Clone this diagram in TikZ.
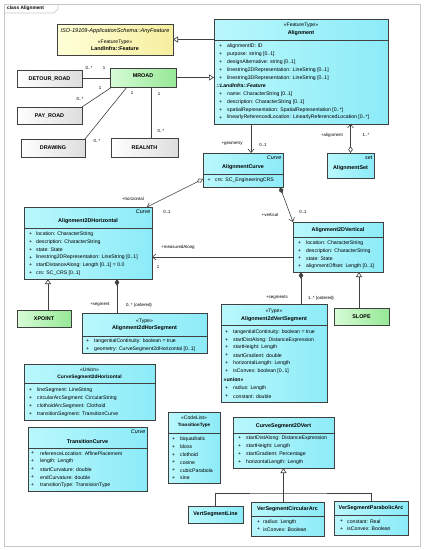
\documentclass[tikz,border=0pt]{standalone}
\usepackage{fontspec}
\setmainfont{Liberation Sans}
\usetikzlibrary{arrows.meta,calc,shadows}
\definecolor{cyL}{RGB}{185,248,252}
\definecolor{cyR}{RGB}{140,235,248}
\definecolor{grL}{RGB}{215,252,215}
\definecolor{grR}{RGB}{150,232,150}
\definecolor{yeL}{RGB}{255,255,215}
\definecolor{yeR}{RGB}{246,238,160}
\definecolor{frm}{RGB}{200,200,200}
\newcommand{\ubox}[6]{%
  \pgfmathsetmacro\bw{#4-#2}\pgfmathsetmacro\bh{#5-#3}%
  \node[#6, minimum width=\bw pt, minimum height=\bh pt, anchor=north west] (#1) at (#2,#3) {};}
\newcommand{\attrlist}[5]{%
  \foreach \itm [count=\i from 0] in {#5} {
    \pgfmathsetmacro\yy{#3+\i*#4}
    \node[attr] at (#1,\yy) {+};
    \node[attr] at (#2,\yy) {\itm};
  }}
\newcommand{\sepl}[2]{\draw[sepline] (#1.west |- 0,#2) -- (#1.east |- 0,#2);}
\begin{document}
\begin{tikzpicture}[x=1pt,y=-1pt,
  box/.style={draw=black!75, line width=0.5pt, inner sep=0pt, outer sep=0pt,
    drop shadow={shadow xshift=1pt,shadow yshift=-1pt,fill=black!30,opacity=1}},
  cbox/.style={box, left color=cyL, right color=cyR},
  gbox/.style={box, left color=grL, right color=grR},
  wbox/.style={box, left color=white, right color=black!13},
  ybox/.style={box, left color=yeL, right color=yeR},
  attr/.style={inner sep=0pt, anchor=west, font=\fontsize{5.15}{6}\selectfont},
  ttl/.style={inner sep=0pt, font=\bfseries\fontsize{5.4}{6}\selectfont},
  ster/.style={inner sep=0pt, font=\fontsize{5.1}{6}\selectfont},
  ital/.style={inner sep=0pt, anchor=east, font=\itshape\fontsize{5.4}{6}\selectfont},
  lbl/.style={inner sep=0pt, font=\fontsize{4.4}{5}\selectfont},
  sepline/.style={draw=black!75, line width=0.4pt},
  conn/.style={draw=black!75, line width=0.6pt},
  gen/.style={conn, -{Triangle[open,length=5pt,width=6pt,fill=white]}},
  nav/.style={conn, -{Straight Barb[length=3.5pt,width=6pt]}}
]
\useasboundingbox (0,0) rectangle (425,550);
\fill[white] (0,0) rectangle (425,550);
% frame
\draw[frm, line width=0.6pt] (4,4) rectangle (420,546);
\draw[frm, line width=0.6pt] (4,13) -- (54,13) -- (58,9) -- (58,4);
\node[inner sep=0pt, anchor=west, font=\bfseries\fontsize{4.8}{5}\selectfont] (frametitle) at (7,8.5) {class Alignment};

% ---- boxes
\ubox{anyf}{57}{24}{173}{55}{ybox}
\ubox{align}{214}{19}{388}{124}{cbox}
\ubox{mroad}{110}{68}{176}{87}{gbox}
\ubox{detour}{17}{70}{82}{87}{wbox}
\ubox{payroad}{17}{107}{82}{124}{wbox}
\ubox{drawing}{21}{139}{85}{157}{wbox}
\ubox{realnth}{111}{138}{178}{157}{wbox}
\ubox{acurve}{203}{153}{283}{187}{cbox}
\ubox{aset}{327}{153}{374}{178}{cbox}
\ubox{ahor}{24}{207}{152}{279}{cbox}
\ubox{avert}{293}{222}{383}{272}{cbox}
\ubox{xpoint}{17}{310}{71}{327}{gbox}
\ubox{hseg}{82}{313}{207}{353}{cbox}
\ubox{vseg}{221}{304}{327}{402}{cbox}
\ubox{slope}{334}{308}{389}{325}{gbox}
\ubox{cstwodh}{24}{364}{155}{420}{cbox}
\ubox{tcurve}{28}{427}{147}{491}{cbox}
\ubox{ttype}{168}{412}{220}{483}{cbox}
\ubox{cstwodv}{233}{417}{334}{468}{cbox}
\ubox{vline}{188}{506}{243}{523}{cbox}
\ubox{vcirc}{251}{502}{324}{536}{cbox}
\ubox{vpara}{334}{501}{408}{535}{cbox}

% ---- AnyFeature
\node[inner sep=0pt, font=\itshape\fontsize{5.6}{6}\selectfont] at (anyf.north |- 0,31) {ISO-19109-ApplicationSchema::AnyFeature};
\node[ster] at (anyf.north |- 0,42) {«FeatureType»};
\node[ttl] at (anyf.north |- 0,49) {LandInfra::Feature};

% ---- Alignment
\node[ster] at (align.north |- 0,25.5) {«FeatureType»};
\node[ttl] at (align.north |- 0,33) {Alignment};
\sepl{align}{40}
\attrlist{219}{227}{46.5}{7.9}{alignmentID: ID,purpose: string [0..1],designAlternative: string [0..1],linestring2DRepresentation: LineString [0..1],linestring3DRepresentation: LineString [0..1]}
\node[attr, font=\bfseries\itshape\fontsize{5.15}{6}\selectfont] at (216.5,86) {::LandInfra::Feature};
\attrlist{219}{227}{93.9}{7.9}{name: CharacterString [0..1],description: CharacterString [0..1],spatialRepresentation: SpatialRepresentation [0..*],linearlyReferencedLocation: LinearlyReferencedLocation [0..*]}

% ---- simple boxes
\node[ttl] at (mroad.center |- 0,76) {MROAD};
\node[ttl] at (detour.center) {DETOUR\_ROAD};
\node[ttl] at (payroad.center) {PAY\_ROAD};
\node[ttl] at (drawing.center) {DRAWING};
\node[ttl] at (realnth.center) {REALNTH};
\node[ttl] at (xpoint.center) {XPOINT};
\node[ttl] at (slope.center) {SLOPE};

% ---- AlignmentCurve
\node[ital] at ($(acurve.north east)+(-1.5,5)$) {Curve};
\node[ttl] at (acurve.north |- 0,167.5) {AlignmentCurve};
\sepl{acurve}{174}
\attrlist{207.5}{215}{180.5}{7.9}{crs: SC\_EngineeringCRS}

% ---- AlignmentSet
\node[ital] at ($(aset.north east)+(-1.5,5)$) {set};
\node[ttl] at (aset.north |- 0,168) {AlignmentSet};

% ---- Alignment2DHorizontal
\node[ital] at ($(ahor.north east)+(-1.5,5)$) {Curve};
\node[ttl] at (ahor.north |- 0,221.5) {Alignment2DHorizontal};
\sepl{ahor}{228}
\attrlist{29}{36}{234.5}{7.7}{location: CharacterString,description: CharacterString,state: State,linestring2DRepresentation: LineString [0..1],startDistanceAlong: Length [0..1] = 0.0,crs: SC\_CRS [0..1]}

% ---- Alignment2DVertical
\node[ttl] at (avert.north |- 0,230) {Alignment2DVertical};
\sepl{avert}{237}
\attrlist{298}{306}{243}{7.7}{location: CharacterString,description: CharacterString,state: State,alignmentOffset: Length [0..1]}

% ---- Alignment2dHorSegment
\node[ster] at (hseg.north |- 0,321) {«Type»};
\node[ttl] at (hseg.north |- 0,328.5) {Alignment2dHorSegment};
\sepl{hseg}{336}
\attrlist{86}{94}{341.5}{7.7}{tangentialContinuity: boolean = true,geometry: CurveSegment2dHorizontal [0..1]}

% ---- Alignment2dVertSegment
\node[ster] at (vseg.north |- 0,311.5) {«Type»};
\node[ttl] at (vseg.north |- 0,319) {Alignment2dVertSegment};
\sepl{vseg}{325}
\attrlist{225}{233}{332}{7.75}{tangentialContinuity: boolean = true,startDistAlong: DistanceExpression,startHeight: Length,startGradient: double,horizontalLength: Length,isConvex: boolean [0..1]}
\node[attr, font=\bfseries\fontsize{5.15}{6}\selectfont] at (223.5,380) {«union»};
\attrlist{225}{233}{388.5}{7.9}{radius: Length,constant: double}

% ---- CurveSegment2dHorizontal
\node[ster] at (cstwodh.north |- 0,370) {«Union»};
\node[ttl, font=\bfseries\fontsize{4.9}{6}\selectfont] at (cstwodh.north |- 0,377) {CurveSegment2dHorizontal};
\sepl{cstwodh}{383}
\attrlist{29}{37}{390.5}{7.9}{lineSegment: LineString,circularArcSegment: CircularString,clothoidArcSegment: Clothoid,transitionSegment: TransitionCurve}

% ---- TransitionCurve
\node[ital] at ($(tcurve.north east)+(-1.5,5)$) {Curve};
\node[ttl] at (tcurve.north |- 0,441.5) {TransitionCurve};
\sepl{tcurve}{448}
\attrlist{31}{40}{453.5}{7.9}{referenceLocation: AffinePlacement,length: Length,startCurvature: double,endCurvature: double,transitionType: TransisionType}

% ---- TransitionType
\node[ster] at (ttype.north |- 0,418) {«CodeList»};
\node[ttl, font=\bfseries\fontsize{4.6}{6}\selectfont] at (ttype.north |- 0,425) {TransitionType};
\sepl{ttype}{433}
\attrlist{172}{180}{439}{7.8}{biquadratic,bloss,clothoid,cosine,cubicParabola,sine}

% ---- CurveSegment2DVert
\node[ttl] at (cstwodv.north |- 0,426) {CurveSegment2DVert};
\sepl{cstwodv}{433}
\attrlist{238}{246}{438.5}{7.8}{startDistAlong: DistanceExpression,startHeight: Length,startGradient: Percentage,horizontalLength: Length}

% ---- Vert segments
\node[ttl] at (vline.center) {VertSegmentLine};
\node[ttl] at (vcirc.north |- 0,509) {VerSegmentCircularArc};
\sepl{vcirc}{516}
\attrlist{257}{263}{522}{7.5}{radius: Length,isConvex: Boolean}
\node[ttl] at (vpara.north |- 0,508.5) {VerSegmentParabolicArc};
\sepl{vpara}{515.5}
\attrlist{340}{347}{521.5}{7.5}{constant: Real,isConvex: Boolean}

% ---- connectors
\draw[gen] (align.north west |- anyf.east) -- (anyf.east);
\draw[gen] (mroad.east) -- (mroad.east -| align.west);
\draw[conn] (detour.east) -- (detour.east -| mroad.west);
\draw[conn] (payroad.north east) -- ($(mroad.south west)+(2,0)$);
\draw[conn] (drawing.north east) -- ($(mroad.south west)+(17,0)$);
\coordinate (mr) at ($(mroad.south west)+(41,0)$);
\draw[conn] (mr) -- (mr |- realnth.north);
\coordinate (ag) at ($(align.south west)+(37,0)$);
\draw[nav] (ag) -- (ag |- acurve.north);
\draw[nav, {Diamond[open,length=7pt,width=4.5pt,fill=white]}-{Straight Barb[length=3.5pt,width=6pt]}] (aset.north) -- (aset.north |- align.south);
\draw[nav, {Diamond[open,length=7pt,width=4.5pt,fill=white]}-{Straight Barb[length=3.5pt,width=6pt]}] ($(acurve.south west)+(0,-8)$) -- ($(ahor.north east)+(-5,0)$);
\draw[nav, {Diamond[length=7pt,width=4.5pt]}-{Straight Barb[length=3.5pt,width=6pt]}] ($(acurve.south east)+(-3,0)$) -- (avert.north west);
\coordinate (ma) at ($(avert.south west)+(0,-15)$);
\draw[nav] (ma) -- (ma -| ahor.east);
\coordinate (xp) at ($(xpoint.north west)+(31,0)$);
\draw[gen] (xp) -- (xp |- ahor.south);
\coordinate (hs) at ($(hseg.north west)+(35,0)$);
\draw[conn, {Diamond[length=7pt,width=4.5pt]}-] (hs |- ahor.south) -- (hs);
\coordinate (vs) at ($(vseg.north west)+(80,0)$);
\draw[conn, {Diamond[length=7pt,width=4.5pt]}-] (vs |- avert.south) -- (vs);
\coordinate (sl) at ($(slope.north west)+(25,0)$);
\draw[gen] (sl) -- (sl |- avert.south);
\coordinate (jn) at ($(cstwodv.south)+(0,25)$);
\draw[conn] (vline.north) |- (jn) -| (vpara.north);
\draw[conn] (vcirc.north -| jn) -- (jn);
\draw[gen] (jn) -- (cstwodv.south);

% ---- connector labels
\node[lbl] at (89,68) {0..*};
\node[lbl] at (104,68) {1};
\node[lbl] at (100,87.5) {1};
\node[lbl] at (80,99) {0..*};
\node[lbl] at (132,93) {1};
\node[lbl] at (97,141) {0..*};
\node[lbl] at (159,94) {1};
\node[lbl] at (161,131) {0..*};
\node[lbl] at (232,144) {+geometry};
\node[lbl] at (263,145) {0..1};
\node[lbl] at (332,135.5) {+alignment};
\node[lbl] at (366,134.5) {1..*};
\node[lbl] at (133,198.5) {+horizontal};
\node[lbl] at (167,211.5) {0..1};
\node[lbl] at (270,215) {+vertical};
\node[lbl] at (303,212) {0..1};
\node[lbl] at (178,247.5) {+measuredAlong};
\node[lbl] at (158,266.5) {1};
\node[lbl] at (100,305) {+segment};
\node[lbl] at (139,305) {0..* \{ordered\}};
\node[lbl] at (277,298) {+segments};
\node[lbl] at (321,298) {1..* \{ordered\}};
\end{tikzpicture}
\end{document}
